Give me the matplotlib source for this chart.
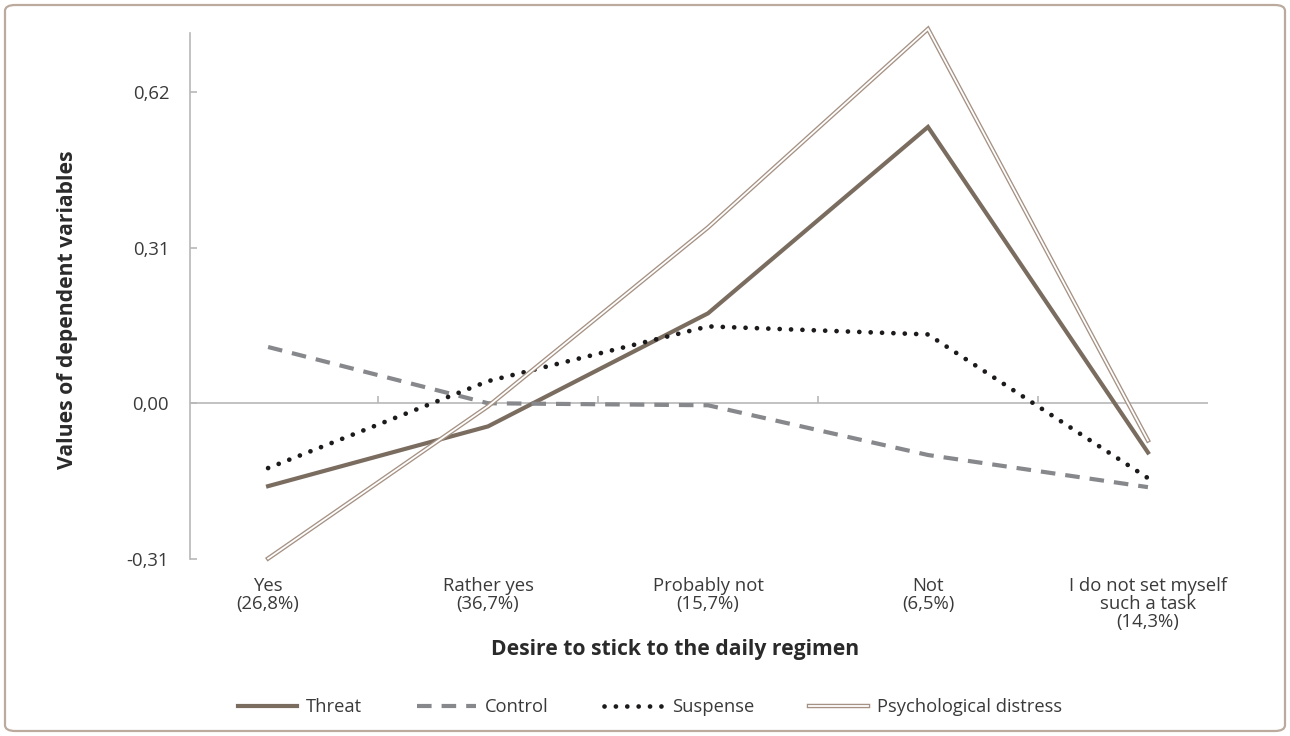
import matplotlib
matplotlib.use("Agg")
import matplotlib.pyplot as plt
from matplotlib.patches import FancyBboxPatch
from matplotlib.lines import Line2D
import numpy as np

plt.rcParams['font.family'] = ['Open Sans', 'DejaVu Sans']

# Data
categories = ["Yes\n(26,8%)", "Rather yes\n(36,7%)", "Probably not\n(15,7%)",
              "Not\n(6,5%)", "I do not set myself\nsuch a task\n(14,3%)"]
threat = [-0.165, -0.046, 0.179, 0.550, -0.098]
control = [0.112, 0.000, -0.004, -0.103, -0.167]
suspense = [-0.129, 0.044, 0.153, 0.137, -0.149]
distress = [-0.309, -0.006, 0.350, 0.745, -0.074]
y_ticks = [-0.31, 0.0, 0.31, 0.62]
y_tick_labels = ["-0,31", "0,00", "0,31", "0,62"]

# Colours
c_threat = "#7a6d60"
c_control = "#87888c"
c_suspense = "#1c1a1a"
c_distress = "#a69284"
c_axis = "#b8b8b8"
c_text = "#3a3a3a"

W, H = 1290, 736
fig = plt.figure(figsize=(W / 100, H / 100), dpi=100)

# rounded frame around the whole chart
frame = FancyBboxPatch((5 / W, 5 / H), 1280 / W, 726 / H,
                       boxstyle="round,pad=0,rounding_size=0.008",
                       transform=fig.transFigure, facecolor="white",
                       edgecolor="#bcaa9e", linewidth=1.6, zorder=-10)
fig.patches.append(frame)

ax = fig.add_axes([190 / W, 1 - 559 / H, (1208 - 190) / W, (559 - 33) / H])
ax.patch.set_alpha(0)

x = np.arange(len(categories))

dash = (0, (3.5, 2.4))
dots = (0, (0.01, 2.4))

ax.plot(x, threat, color=c_threat, lw=3.0, solid_joinstyle="miter", clip_on=False, zorder=3)
ax.plot(x, control, color=c_control, lw=3.0, linestyle=dash,
        dash_capstyle="butt", clip_on=False, zorder=4)
ax.plot(x, suspense, color=c_suspense, lw=3.4, linestyle=dots,
        dash_capstyle="round", clip_on=False, zorder=5)
ax.plot(x, distress, color=c_distress, lw=3.2, solid_joinstyle="miter", clip_on=False, zorder=6)
ax.plot(x, distress, color="white", lw=1.3, solid_joinstyle="miter", clip_on=False, zorder=7)

ax.set_xlim(-0.355, 4.273)
ax.set_ylim(-0.31, 0.737)

# spines
for s in ["top", "right", "bottom"]:
    ax.spines[s].set_visible(False)
ax.spines["left"].set_color(c_axis)
ax.spines["left"].set_linewidth(1.2)

# zero line acting as category axis, with tick marks between categories
ax.axhline(0, color=c_axis, lw=1.2, zorder=1)
bounds = x[:-1] + 0.5
ax.vlines(bounds, 0, 0.014, color=c_axis, lw=1.2, zorder=1)

ax.set_yticks(y_ticks)
ax.set_yticklabels(y_tick_labels)
ax.tick_params(axis="y", direction="in", length=5, width=1.2, color=c_axis,
               pad=15, labelsize=13.3, labelcolor=c_text)

ax.set_xticks(x)
ax.set_xticklabels(categories, linespacing=1.0)
ax.tick_params(axis="x", length=0, pad=13, labelsize=13.3, labelcolor=c_text)

fig.text(675 / W, 1 - 650 / H, "Desire to stick to the daily regimen",
         ha="center", va="center", fontsize=15.2, fontweight="bold", color="#2a2a2a")
fig.text(68 / W, 1 - 310 / H, "Values of dependent variables", rotation=90,
         ha="center", va="center", fontsize=15.2, fontweight="bold", color="#2a2a2a")

# legend
h_threat = Line2D([], [], color=c_threat, lw=3.0)
h_control = Line2D([], [], color=c_control, lw=3.0, linestyle=dash)
h_susp = Line2D([], [], color=c_suspense, lw=3.4, linestyle=dots, dash_capstyle="round")
h_dist_out = Line2D([], [], color=c_distress, lw=3.2)
h_dist_in = Line2D([], [], color="white", lw=1.3)
fig.legend([h_threat, h_control, h_susp, (h_dist_out, h_dist_in)],
           ["Threat", "Control", "Suspense", "Psychological distress"],
           loc="center", bbox_to_anchor=(650 / W, 1 - 707 / H), ncol=4,
           frameon=False, fontsize=13.2, handlelength=3.2, handletextpad=0.5,
           columnspacing=3.0, labelcolor=c_text)

fig.savefig("out.png", dpi=100)
